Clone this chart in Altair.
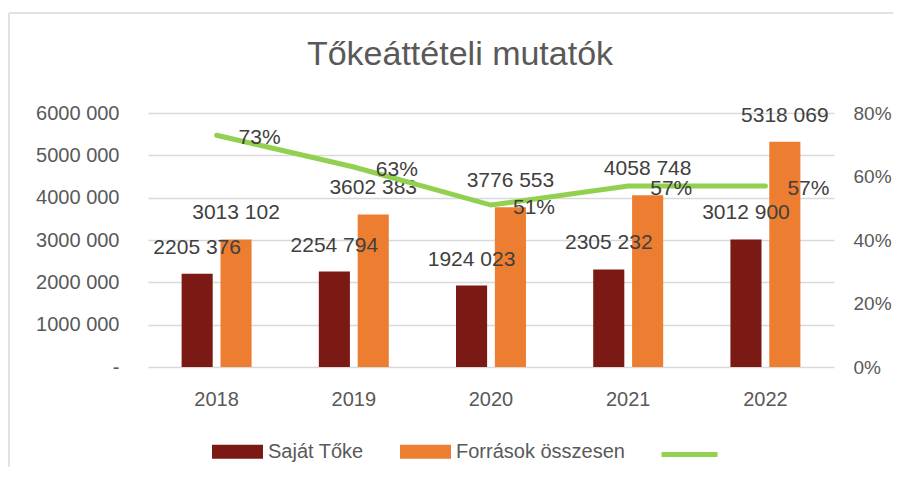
import altair as alt
import pandas as pd

years = ["2018", "2019", "2020", "2021", "2022"]
sajat_toke = [2205376, 2254794, 1924023, 2305232, 3012900]
forrasok = [3013102, 3602383, 3776553, 4058748, 5318069]
arany = [0.73, 0.63, 0.51, 0.57, 0.57]
series_names = ["Saját Tőke", "Források összesen"]
bar_colors = ["#7B1A14", "#ED7D31"]
line_color = "#92D050"
y_left_ticks = [0, 1000000, 2000000, 3000000, 4000000, 5000000, 6000000]
y_right_ticks = [0, 0.2, 0.4, 0.6, 0.8]

def fmt(v):
    return f"{v // 1000} {v % 1000:03d}"

rows = []
for i, y in enumerate(years):
    rows.append({"year": y, "series": series_names[0], "value": sajat_toke[i], "label": fmt(sajat_toke[i])})
    rows.append({"year": y, "series": series_names[1], "value": forrasok[i], "label": fmt(forrasok[i])})
bars_df = pd.DataFrame(rows)
line_df = pd.DataFrame({"year": years, "ratio": arany, "name": [" "] * 5,
                        "label": [f"{round(r * 100)}%" for r in arany]})

FONT = "Liberation Sans"
TXT = "#404040"
AX = "#595959"
PL = 140  # left padding

x_enc = alt.X("year:N", sort=years, title=None,
              scale=alt.Scale(paddingInner=0.49, paddingOuter=0.245),
              axis=alt.Axis(labelFontSize=20, labelColor=AX, labelFont=FONT,
                            labelPadding=22, ticks=False, domain=False, labelAngle=0, grid=False))

y_left = alt.Y("value:Q", title=None,
               scale=alt.Scale(domain=[0, 6000000], nice=False),
               axis=alt.Axis(values=y_left_ticks, labelFontSize=20, labelColor=AX,
                             labelFont=FONT, labelPadding=29, ticks=False, domain=False,
                             gridColor="#D9D9D9", gridWidth=1.3,
                             labelExpr="datum.value == 0 ? '-' : format(floor(datum.value/1000),'d') + ' ' + format(datum.value % 1000, '03d')"))

bars = alt.Chart(bars_df).mark_bar().encode(
    x=x_enc,
    xOffset=alt.XOffset("series:N", sort=series_names,
                        scale=alt.Scale(paddingInner=0.2, paddingOuter=0)),
    y=y_left,
    color=alt.Color("series:N", sort=series_names,
                    scale=alt.Scale(domain=series_names, range=bar_colors),
                    legend=alt.Legend(orient="none", legendX=64, legendY=313, title=None,
                                      direction="horizontal",
                                      symbolType="M-1,-0.275H1V0.275H-1Z", symbolSize=2601,
                                      symbolStrokeWidth=0, labelFontSize=20, labelFont=FONT,
                                      labelColor=AX, columnPadding=36, symbolOffset=0,
                                      labelOffset=5, labelLimit=400)),
)

bar_labels = alt.Chart(bars_df).mark_text(fontSize=21, font=FONT, color=TXT, dy=-26,
                                          baseline="middle").encode(
    x=alt.X("year:N", sort=years),
    xOffset=alt.XOffset("series:N", sort=series_names),
    y=alt.Y("value:Q"),
    text="label:N",
)

left = alt.layer(bars, bar_labels)

y_right = alt.Y("ratio:Q", title=None,
                scale=alt.Scale(domain=[0, 0.8], nice=False),
                axis=alt.Axis(values=y_right_ticks, format=".0%", orient="right",
                              labelFontSize=19, labelColor=AX, labelFont=FONT,
                              labelPadding=19, ticks=False, domain=False, grid=False))

line = alt.Chart(line_df).mark_line(strokeWidth=5, strokeCap="round").encode(
    x=alt.X("year:N", sort=years),
    y=y_right,
    stroke=alt.Stroke("name:N", scale=alt.Scale(range=[line_color]),
                      legend=alt.Legend(orient="none", legendX=511, legendY=311, title=None,
                                        symbolType="M-1,0H1",
                                        symbolSize=3136, symbolStrokeWidth=5,
                                        labelFontSize=19, labelExpr="''")),
)

line_labels = alt.Chart(line_df).mark_text(fontSize=21, font=FONT, color=TXT, align="left",
                                           dx=22, dy=3, baseline="middle").encode(
    x=alt.X("year:N", sort=years),
    y=alt.Y("ratio:Q"),
    text="label:N",
)

right = alt.layer(line, line_labels)

frame = alt.Chart(pd.DataFrame({"a": [0]})).mark_rule(color="#D9D9D9", strokeWidth=1.5).encode(
    x=alt.value(-PL + 1), x2=alt.value(-PL + 1), y=alt.value(-100), y2=alt.value(400))
frame_top = alt.Chart(pd.DataFrame({"a": [0]})).mark_rule(color="#D9D9D9", strokeWidth=1.5).encode(
    x=alt.value(-PL + 1), x2=alt.value(760), y=alt.value(-100), y2=alt.value(-100))

chart = alt.layer(left, right, frame, frame_top).resolve_scale(
    y="independent", color="independent", stroke="independent"
).properties(
    width=686, height=254,
    title=alt.TitleParams("Tőkeáttételi mutatók", fontSize=34, font=FONT, fontWeight="normal",
                          color=AX, anchor="middle", frame="group", baseline="alphabetic",
                          dx=-31, offset=-87),
    autosize=alt.AutoSizeParams(type="none"),
    padding={"left": PL, "top": 105, "right": 885 - PL - 686, "bottom": 100},
).configure_view(stroke=None)

chart.save("out.html", embed_options={"renderer": "svg", "actions": False})
